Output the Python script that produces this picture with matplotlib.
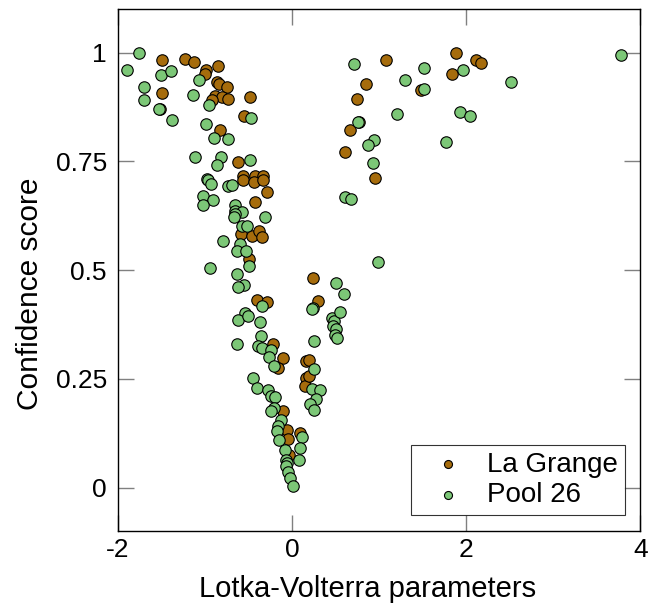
import matplotlib
matplotlib.use("Agg")
import matplotlib.pyplot as plt

plt.rcParams['font.family'] = ['Liberation Sans', 'DejaVu Sans']

# La Grange (brown) points: Lotka-Volterra parameter vs confidence score
lagrange_x = [-1.498, -1.23, -1.124, -0.99, -1.005, -0.852, -0.867, -0.844, -0.752, -1.498,
              -0.886, -0.80, -0.734, -0.924, -0.485, -1.518, -0.553, -0.833, -0.619, -0.562,
              -0.42, -0.33, -0.569, -0.436, -0.33, -0.285, -0.42, -0.584, -0.462, -0.378,
              -0.35, -0.50, -0.40, -0.285, -0.224, -0.102, -0.163, 0.16, 0.20, 0.159,
              0.15, 0.193, -0.10, -0.06, -0.045, -0.034, 0.097, 0.30, 0.24,
              1.077, 1.884, 2.11, 2.168, 1.834, 1.486, 0.844, 0.744, 0.775, 0.668,
              0.610, 0.951]
lagrange_y = [0.984, 0.985, 0.979, 0.959, 0.951, 0.970, 0.933, 0.927, 0.920, 0.907,
              0.901, 0.899, 0.894, 0.892, 0.899, 0.870, 0.854, 0.821, 0.748, 0.716,
              0.716, 0.716, 0.706, 0.702, 0.706, 0.679, 0.656, 0.584, 0.578, 0.589,
              0.576, 0.526, 0.432, 0.426, 0.331, 0.298, 0.274, 0.292, 0.294, 0.252,
              0.233, 0.257, 0.175, 0.133, 0.112, 0.076, 0.126, 0.428, 0.482,
              0.982, 1.0, 0.982, 0.977, 0.952, 0.915, 0.928, 0.894, 0.841, 0.822,
              0.772, 0.712]

# Pool 26 (green) points
pool_x = [-1.755, -1.90, -1.51, -1.395, -1.70, -1.70, -1.533, -1.377, -1.07, -1.135,
          -0.959, -0.986, -0.898, -0.734, -0.470, -1.116, -0.821, -0.86, -0.485, -0.975,
          -0.97, -0.933, -0.734, -0.688, -1.02, -0.906, -1.02, -0.654, -0.654, -0.58,
          -0.65, -0.67, -0.309, -0.58, -0.52, -0.79, -0.60, -0.637, -0.534, -0.496,
          -0.948, -0.634, -0.55, -0.622, -0.35, -0.542, -0.619, -0.51, -0.366, 0.242,
          0.46, 0.48, 0.47, 0.50, 0.49, 0.52, 0.549, -0.634, -0.355, -0.396,
          -0.35, -0.236, -0.266, -0.209, 0.247, 0.254, -0.447, -0.40, -0.278, -0.236,
          -0.19, 0.227, 0.319, 0.273, 0.204, 0.25, -0.209, -0.243, -0.13, -0.16,
          -0.17, -0.155, 0.109, 0.089, 0.075, -0.083, -0.07, -0.055, -0.065, -0.045,
          -0.023, 0.008, 0.23,
          0.713, 1.513, 1.30, 1.513, 1.961, 2.512, 3.783, 1.211, 1.926, 2.041,
          1.774, 0.763, 0.936, 0.870, 0.928, 0.614, 0.679, 0.988, 0.503, 0.595]
pool_y = [0.999, 0.96, 0.949, 0.958, 0.92, 0.891, 0.871, 0.846, 0.938, 0.903,
          0.879, 0.837, 0.803, 0.801, 0.849, 0.760, 0.759, 0.742, 0.753, 0.71,
          0.706, 0.698, 0.693, 0.696, 0.670, 0.661, 0.649, 0.650, 0.635, 0.633,
          0.630, 0.623, 0.622, 0.602, 0.602, 0.566, 0.560, 0.543, 0.543, 0.509,
          0.504, 0.490, 0.466, 0.462, 0.418, 0.402, 0.386, 0.394, 0.380, 0.413,
          0.390, 0.382, 0.372, 0.365, 0.350, 0.345, 0.403, 0.330, 0.349, 0.325,
          0.321, 0.316, 0.300, 0.279, 0.336, 0.273, 0.252, 0.229, 0.224, 0.21,
          0.209, 0.227, 0.224, 0.204, 0.192, 0.179, 0.183, 0.175, 0.155, 0.141,
          0.129, 0.11, 0.116, 0.091, 0.063, 0.087, 0.064, 0.057, 0.049, 0.035,
          0.022, 0.003, 0.41,
          0.974, 0.964, 0.936, 0.917, 0.960, 0.933, 0.994, 0.858, 0.864, 0.854,
          0.795, 0.840, 0.798, 0.787, 0.746, 0.669, 0.664, 0.518, 0.471, 0.444]

brown = "#a66c0c"
green = "#7cc777"

fig = plt.figure(figsize=(6.48, 6.09), dpi=100)
ax = fig.add_axes([0.182, 0.128, 0.806, 0.857])

ax.scatter(lagrange_x, lagrange_y, s=68, c=brown, edgecolors="black", linewidths=0.8,
           label="La Grange", zorder=2)
ax.scatter(pool_x, pool_y, s=68, c=green, edgecolors="black", linewidths=0.8,
           label="Pool 26", zorder=3)

ax.set_xlim(-2, 4)
ax.set_ylim(-0.1, 1.1)
ax.set_xticks([-2, 0, 2, 4])
ax.set_xticklabels(["-2", "0", "2", "4"])
ax.set_yticks([0, 0.25, 0.5, 0.75, 1])
ax.set_yticklabels(["0", "0.25", "0.5", "0.75", "1"])
ax.tick_params(direction="in", length=11.5, width=1, color="#808080",
               top=True, right=True, labelsize=19)
ax.tick_params(axis="x", pad=5)
ax.tick_params(axis="y", pad=8)

ax.set_xlabel("Lotka-Volterra parameters", fontsize=21)
ax.set_ylabel("Confidence score", fontsize=21.5)
ax.xaxis.set_label_coords(0.477, -0.085)
ax.yaxis.set_label_coords(-0.142, 0.454)

for s in ax.spines.values():
    s.set_linewidth(1)

leg = ax.legend(loc="lower right", fontsize=20, markerscale=0.7, frameon=True,
                fancybox=False, edgecolor="black", handlelength=2.2, handletextpad=0.3,
                borderpad=0.25, labelspacing=0.15, borderaxespad=0,
                bbox_to_anchor=(0.971, 0.031))
leg.get_frame().set_linewidth(0.8)

fig.savefig("out.png", dpi=100)
